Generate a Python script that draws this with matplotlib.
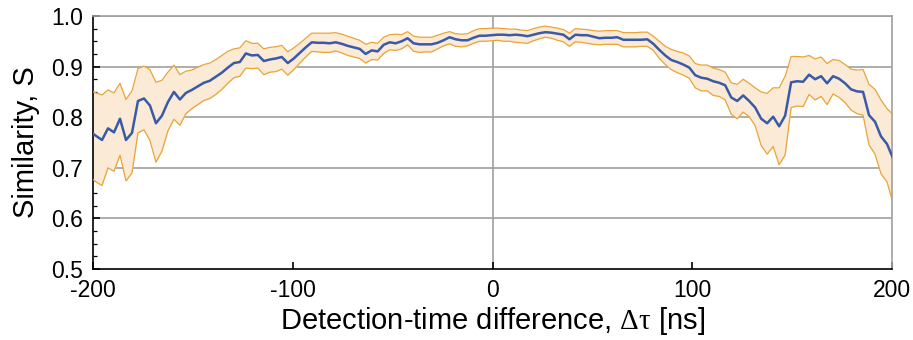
import numpy as np
import matplotlib
matplotlib.use("Agg")
import matplotlib.pyplot as plt
from matplotlib.ticker import MultipleLocator

plt.rcParams["font.family"] = ["Liberation Sans", "DejaVu Sans"]
plt.rcParams["mathtext.fontset"] = "custom"
plt.rcParams["mathtext.rm"] = "Liberation Serif"
plt.rcParams["mathtext.it"] = "Liberation Serif:italic"

# Detection-time grid (ns): 3 ns bins, first and last bins extend past the axis limits
dt_start = -201.5
dt_step = 3.0

similarity_mean = [
    0.772, 0.763, 0.755, 0.778, 0.770, 0.797, 0.755, 0.769, 0.832, 0.837,
    0.823, 0.788, 0.803, 0.830, 0.850, 0.835, 0.848, 0.854, 0.861, 0.868,
    0.872, 0.880, 0.888, 0.898, 0.907, 0.909, 0.926, 0.922, 0.923, 0.911,
    0.914, 0.916, 0.919, 0.907, 0.916, 0.927, 0.938, 0.948, 0.947, 0.947,
    0.946, 0.948, 0.945, 0.941, 0.938, 0.935, 0.925, 0.932, 0.930, 0.943,
    0.948, 0.946, 0.950, 0.956, 0.946, 0.944, 0.944, 0.944, 0.947, 0.952,
    0.958, 0.954, 0.952, 0.952, 0.957, 0.961, 0.961, 0.962, 0.963, 0.963,
    0.962, 0.963, 0.962, 0.960, 0.963, 0.966, 0.968, 0.967, 0.965, 0.963,
    0.954, 0.963, 0.962, 0.962, 0.959, 0.956, 0.957, 0.957, 0.958, 0.953,
    0.953, 0.953, 0.953, 0.954, 0.945, 0.933, 0.922, 0.913, 0.909, 0.904,
    0.898, 0.883, 0.878, 0.876, 0.871, 0.868, 0.863, 0.839, 0.832, 0.843,
    0.832, 0.819, 0.797, 0.788, 0.801, 0.782, 0.803, 0.869, 0.871, 0.870,
    0.884, 0.875, 0.881, 0.867, 0.881, 0.876, 0.867, 0.855, 0.851, 0.850,
    0.804, 0.791, 0.762, 0.747, 0.719,
]

similarity_upper = [
    0.852, 0.848, 0.844, 0.854, 0.848, 0.867, 0.835, 0.852, 0.896, 0.901,
    0.894, 0.869, 0.873, 0.889, 0.903, 0.884, 0.891, 0.893, 0.899, 0.904,
    0.907, 0.914, 0.922, 0.930, 0.935, 0.937, 0.951, 0.946, 0.946, 0.935,
    0.938, 0.939, 0.942, 0.929, 0.937, 0.946, 0.956, 0.966, 0.966, 0.966,
    0.966, 0.967, 0.964, 0.960, 0.956, 0.952, 0.944, 0.948, 0.946, 0.958,
    0.963, 0.964, 0.963, 0.969, 0.960, 0.958, 0.958, 0.958, 0.962, 0.966,
    0.969, 0.965, 0.964, 0.965, 0.971, 0.975, 0.975, 0.976, 0.976, 0.975,
    0.974, 0.974, 0.972, 0.971, 0.975, 0.978, 0.980, 0.978, 0.976, 0.973,
    0.966, 0.975, 0.974, 0.973, 0.971, 0.970, 0.971, 0.971, 0.971, 0.967,
    0.967, 0.967, 0.968, 0.968, 0.960, 0.950, 0.940, 0.934, 0.930, 0.927,
    0.921, 0.906, 0.903, 0.903, 0.897, 0.894, 0.889, 0.868, 0.865, 0.875,
    0.867, 0.858, 0.850, 0.847, 0.858, 0.858, 0.881, 0.920, 0.920, 0.919,
    0.922, 0.915, 0.919, 0.906, 0.914, 0.912, 0.904, 0.895, 0.893, 0.894,
    0.865, 0.855, 0.834, 0.817, 0.805,
]

similarity_lower = [
    0.682, 0.672, 0.665, 0.700, 0.693, 0.725, 0.674, 0.690, 0.769, 0.775,
    0.754, 0.711, 0.733, 0.773, 0.796, 0.784, 0.807, 0.817, 0.825, 0.833,
    0.837, 0.845, 0.855, 0.867, 0.878, 0.881, 0.897, 0.896, 0.897, 0.884,
    0.889, 0.890, 0.895, 0.883, 0.894, 0.907, 0.919, 0.930, 0.929, 0.928,
    0.928, 0.931, 0.927, 0.922, 0.919, 0.916, 0.907, 0.914, 0.913, 0.926,
    0.933, 0.932, 0.935, 0.943, 0.930, 0.928, 0.929, 0.929, 0.935, 0.941,
    0.945, 0.940, 0.939, 0.941, 0.946, 0.950, 0.950, 0.951, 0.952, 0.950,
    0.950, 0.948, 0.947, 0.946, 0.951, 0.955, 0.958, 0.956, 0.952, 0.949,
    0.940, 0.949, 0.948, 0.946, 0.944, 0.943, 0.944, 0.944, 0.944, 0.939,
    0.939, 0.939, 0.940, 0.940, 0.932, 0.916, 0.904, 0.894, 0.888, 0.883,
    0.877, 0.858, 0.852, 0.852, 0.843, 0.841, 0.834, 0.806, 0.797, 0.810,
    0.801, 0.783, 0.744, 0.727, 0.742, 0.706, 0.725, 0.819, 0.822, 0.821,
    0.845, 0.834, 0.841, 0.825, 0.846, 0.839, 0.829, 0.814, 0.807, 0.804,
    0.745, 0.727, 0.688, 0.672, 0.630,
]

x_ticks = [-200, -100, 0, 100, 200]
y_ticks = [0.5, 0.6, 0.7, 0.8, 0.9, 1.0]

dt = dt_start + dt_step * np.arange(len(similarity_mean))

fig = plt.figure(figsize=(9.13, 3.40), dpi=100)
ax = fig.add_axes([0.1019, 0.2088, 0.8751, 0.7442])

grid_col = "#a0a0a0"
for yv in y_ticks[1:]:
    ax.axhline(yv, color=grid_col, lw=1.2, zorder=1)
ax.axvline(0, color=grid_col, lw=1.2, zorder=1)

band_fill = "#fbead6"
band_edge = "#e9a436"
ax.fill_between(dt, similarity_lower, similarity_upper, color=band_fill,
                lw=0, zorder=2)
ax.plot(dt, similarity_upper, color=band_edge, lw=0.9, zorder=3)
ax.plot(dt, similarity_lower, color=band_edge, lw=0.9, zorder=3)
ax.plot(dt, similarity_mean, color="#3a5aa8", lw=1.8, zorder=4)

ax.set_xlim(-200, 200)
ax.set_ylim(0.5, 1.0)
ax.set_xticks(x_ticks)
ax.set_xticklabels([str(v) for v in x_ticks])
ax.set_yticks(y_ticks)
ax.set_yticklabels([f"{v:.1f}" for v in y_ticks])
ax.yaxis.set_minor_locator(MultipleLocator(0.025))

ax.tick_params(axis="both", which="major", direction="in", length=5,
               width=1.2, labelsize=16.5, color="black", pad=7)
ax.tick_params(axis="y", which="minor", direction="in", length=3,
               width=0.9, color="black")
ax.tick_params(axis="x", which="major", pad=7)

for side in ("left", "bottom"):
    ax.spines[side].set_color("black")
    ax.spines[side].set_linewidth(1.2)
for side in ("top", "right"):
    ax.spines[side].set_color(grid_col)
    ax.spines[side].set_linewidth(1.2)

ax.set_ylabel("Similarity, S", fontsize=21, labelpad=8)
ax.set_xlabel(r"Detection-time difference, $\mathrm{Δτ}$ [ns]", fontsize=21,
              labelpad=2)

fig.savefig("out.png", dpi=100)
